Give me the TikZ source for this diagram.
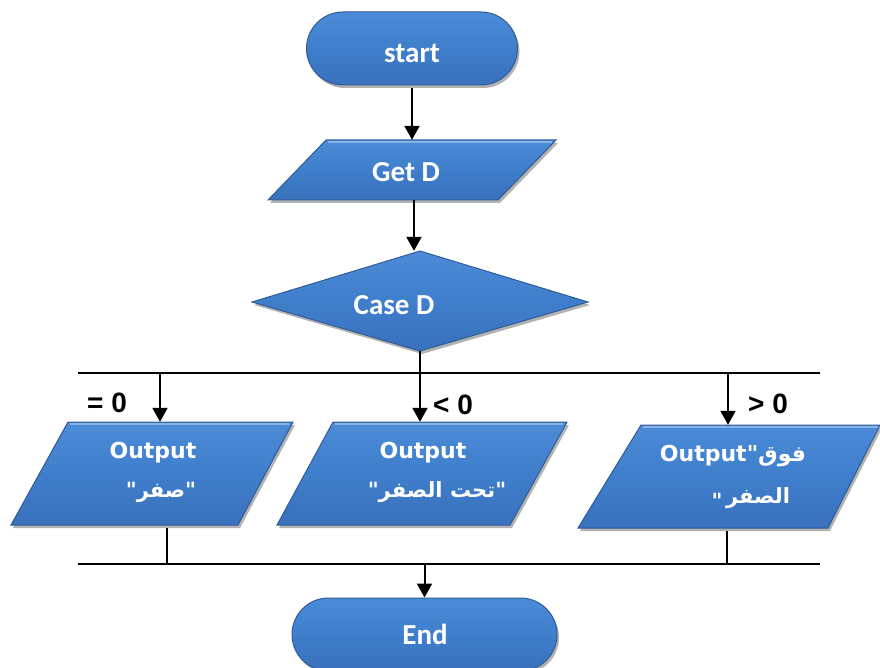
\documentclass[tikz,border=0pt]{standalone}
\usepackage{fontspec}
\usetikzlibrary{shapes.misc,shadows,arrows.meta}
\TeXXeTstate=1
\newfontfamily\calfont{Carlito}
\newfontfamily\dvfont{DejaVu Sans}
\newfontfamily\labfont{Liberation Sans}
\newfontfamily\arabicfont[Script=Arabic]{DejaVu Sans}
\definecolor{bluetop}{HTML}{4C8BD8}
\definecolor{bluemid}{HTML}{3F7ECB}
\definecolor{bluebot}{HTML}{3971BD}
\definecolor{blueedge}{HTML}{2F5C96}
\begin{document}
\begin{tikzpicture}[x=1pt,y=-1pt,
  shapefill/.style={draw=blueedge, line width=1pt, top color=bluetop, bottom color=bluebot, middle color=bluemid,
    drop shadow={shadow xshift=2pt,shadow yshift=-3pt,opacity=0.3,fill=black}},
  term/.style={shapefill, rounded rectangle, minimum width=#1, minimum height=73pt, inner sep=0pt},
  frame/.style={inner sep=0pt, minimum width=20pt, minimum height=#1},
  wtxt/.style={text=white, inner sep=0pt, font=\calfont\bfseries\fontsize{29}{34}\selectfont},
  otxt/.style={text=white, inner sep=0pt, font=\dvfont\bfseries\fontsize{22}{26}\selectfont},
  atxt/.style={text=white, inner sep=0pt, font=\arabicfont\bfseries\fontsize{21}{26}\selectfont},
  lab/.style={inner sep=0pt, font=\labfont\bfseries\fontsize{28}{32}\selectfont},
  arr/.style={line width=2pt, -{Triangle[width=15pt,length=14pt]}},
  bus/.style={line width=2.6pt},
  tie/.style={line width=1.2pt},
  hilite/.style={draw=white, draw opacity=0.35, line width=1.5pt}]
\useasboundingbox (0,0) rectangle (880,668);
\clip (0,0) rectangle (880,668);

% terminals
\node[term=211pt] (start) at (412,48.5) {};
\node[wtxt] (starttxt) at (412,53) {start};
\node[term=265pt] (end) at (424.5,634.5) {};
\node[wtxt] (endtxt) at (425,634) {End};

% Get D
\path[shapefill] (326,140) -- (556,140) -- (498,200) -- (268,200) -- cycle;
\draw[hilite] (328,142) -- (552,142);
\node[frame=60pt] (getd) at (412,170) {};
\node[wtxt] (getdtxt) at (406,172) {Get D};

% Case D
\path[shapefill] (420,251) -- (588,302) -- (420,351) -- (252,302) -- cycle;
\node[frame=100pt] (case) at (420,301) {};
\node[wtxt] (casetxt) at (394,305) {Case D};

% outputs
\path[shapefill] (68,422) -- (293,422) -- (238,525) -- (11,525) -- cycle;
\draw[hilite] (70,424) -- (289,424);
\path[shapefill] (333,422) -- (567,422) -- (510,525) -- (277,525) -- cycle;
\draw[hilite] (335,424) -- (563,424);
\path[shapefill] (641,425) -- (880,425) -- (828,528) -- (578,528) -- cycle;
\draw[hilite] (643,427) -- (878,427);
\node[frame=103pt] (out1) at (160,473.5) {};
\node[frame=103pt] (out2) at (420,473.5) {};
\node[frame=103pt] (out3) at (728,476.5) {};

\node[otxt] (o1a) at (153,453) {Output};
\node[atxt] (o1b) at (161,492) {\beginR"صفر"\endR};
\node[otxt] (o2a) at (423,453) {Output};
\node[atxt] (o2b) at (437,492) {\beginR"تحت الصفر"\endR};
\node[otxt] (o3a) at (733,456) {Output"{\arabicfont\beginR فوق\endR}};
\node[atxt] (o3b) at (758,498) {الصفر};
\node[atxt, anchor=east] (o3q) at ([xshift=-3pt,yshift=-3pt]o3b.west) {"};

% labels
\node[lab] (l1) at (107,403) {= 0};
\node[lab] (l2) at (453,405) {< 0};
\node[lab] (l3) at (768,404) {> 0};

% buses
\coordinate (busL) at (78,373);
\coordinate (busR) at (820,373);
\coordinate (bus2L) at (78,564);
\coordinate (bus2R) at (820,564);
\draw[bus] (busL) -- (busR);
\draw[bus] (bus2L) -- (bus2R);

% connectors
\draw[arr] ([yshift=-3pt]start.south) -- (getd.north);
\draw[arr] ([xshift=2pt]getd.south) -- ([xshift=2pt]getd.south |- case.north);
\draw[arr] (case.south) -- (out2.north);
\draw[arr] (out1.north |- busL) -- (out1.north);
\draw[arr] (out3.north |- busL) -- (out3.north);
\coordinate (t1) at (167,564);
\coordinate (t3) at (727,564);
\draw[tie] (t1 |- out1.south) ++(0,3) -- (t1);
\draw[tie] (t3 |- out3.south) ++(0,3) -- (t3);
\draw[arr] (end.north |- bus2L) -- (end.north);
\end{tikzpicture}
\end{document}
